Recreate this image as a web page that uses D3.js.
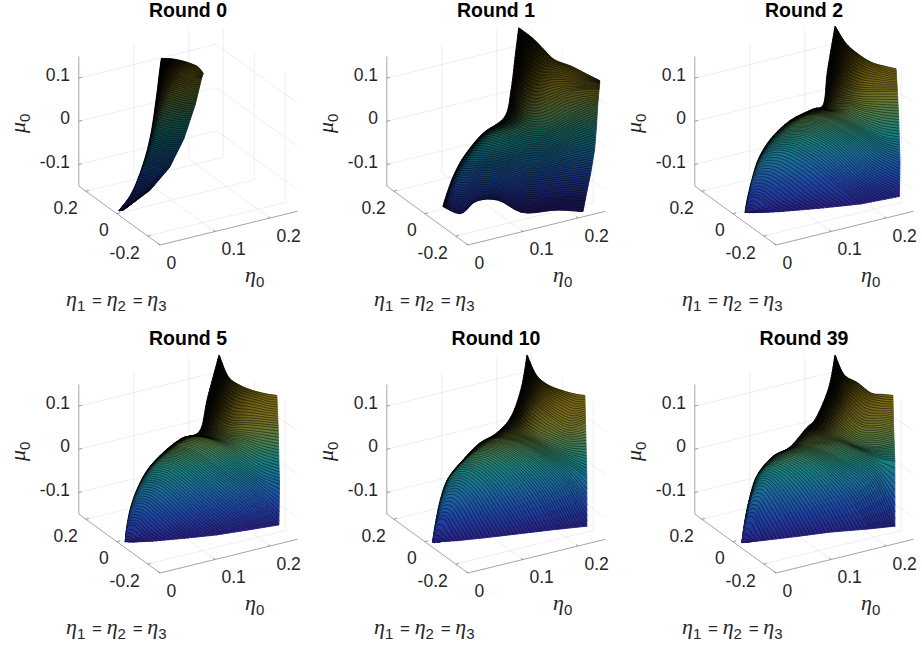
<!DOCTYPE html>
<html>
<head>
<meta charset="utf-8">
<script src="https://cdn.jsdelivr.net/npm/d3@7"></script>
<style>
body { margin: 0; background: #fff; }
text { font-family: "Liberation Sans", Arial, sans-serif; fill: #262626; }
.greek { font-family: "Liberation Serif", serif; font-style: italic; }
</style>
</head>
<body>
<div id="chart"></div>
<script>
// axes
var eta0Lim = [0, 0.25];
var etaYLim = [-0.279, 0.245];
var muLim = [-0.15, 0.15];
var eta0Ticks = [0, 0.1, 0.2];
var etaYTicks = [-0.2, 0, 0.2];
var muTicks = [-0.1, 0, 0.1];
var roundNames = ["Round 0", "Round 1", "Round 2", "Round 5", "Round 10", "Round 39"];

// surfaces: each row is one mesh line at a few points
var round0Eta = [
  [.004, .005, .007, .009, .011, .013],
  [.027, .033, .041, .048, .055, .061],
  [.048, .058, .067, .077, .087, .096],
  [.062, .073, .085, .098, .110, .122],
  [.072, .087, .102, .118, .132, .143],
  [.078, .096, .115, .130, .142, .154],
  [.081, .102, .121, .136, .148, .157]];
var round0Mu = [
  [-.137, -.138, -.138, -.138, -.138, -.138],
  [-.104, -.106, -.108, -.109, -.108, -.107],
  [-.043, -.048, -.054, -.060, -.065, -.066],
  [.022, .015, .007, .000, -.005, -.008],
  [.104, .094, .083, .073, .066, .066],
  [.164, .152, .141, .130, .124, .121],
  [.191, .183, .172, .161, .150, .133]];

var round1Eta = [
  [.017, .045, .069, .103, .142, .193, .235],
  [.024, .046, .072, .108, .144, .196, .240],
  [.035, .056, .082, .113, .149, .201, .247],
  [.051, .072, .097, .129, .165, .212, .253],
  [.079, .097, .123, .154, .186, .222, .256],
  [.113, .134, .154, .180, .206, .232, .258],
  [.123, .139, .160, .183, .206, .232, .260],
  [.130, .147, .167, .188, .212, .235, .261],
  [.135, .157, .175, .191, .217, .240, .261]];
var round1Mu = [
  [-.117, -.138, -.113, -.116, -.151, -.153, -.163],
  [-.085, -.100, -.084, -.094, -.118, -.122, -.125],
  [-.044, -.051, -.044, -.056, -.077, -.077, -.076],
  [-.004, -.007, -.015, -.027, -.040, -.032, -.023],
  [.042, .035, .016, .000, -.001, .017, .031],
  [.075, .057, .042, .038, .054, .069, .081],
  [.135, .110, .095, .103, .115, .119, .115],
  [.219, .186, .164, .161, .153, .142, .130],
  [.278, .250, .220, .195, .176, .155, .136]];

var round2Eta = [
  [.008, .010, .012, .015, .018, .021],
  [.011, .020, .030, .040, .051, .061],
  [.019, .030, .048, .072, .097, .123],
  [.030, .051, .077, .113, .154, .188],
  [.050, .074, .108, .149, .196, .248],
  [.079, .105, .139, .180, .217, .249],
  [.113, .134, .160, .191, .222, .248],
  [.130, .144, .170, .196, .222, .247],
  [.136, .154, .175, .196, .222, .245],
  [.148, .165, .186, .206, .227, .243]];
var round2Mu = [
  [-.130, -.130, -.130, -.131, -.131, -.132],
  [-.102, -.096, -.101, -.115, -.128, -.136],
  [-.053, -.044, -.050, -.077, -.111, -.138],
  [-.005, .007, .000, -.037, -.093, -.138],
  [.038, .046, .038, -.003, -.076, -.130],
  [.073, .076, .060, .019, -.025, -.053],
  [.093, .084, .068, .041, .013, .001],
  [.102, .094, .090, .075, .063, .055],
  [.176, .146, .128, .121, .117, .114],
  [.280, .237, .207, .186, .174, .166]];

var round5Eta = [
  [.002, .003, .005, .008, .011, .015],
  [.004, .010, .019, .027, .036, .045],
  [.010, .021, .035, .053, .074, .095],
  [.021, .035, .056, .082, .113, .144],
  [.038, .056, .082, .118, .160, .196],
  [.064, .084, .113, .154, .201, .241],
  [.090, .113, .144, .180, .212, .242],
  [.118, .139, .160, .186, .214, .241],
  [.130, .144, .165, .186, .214, .240],
  [.148, .162, .180, .201, .222, .238]];
var round5Mu = [
  [-.132, -.132, -.132, -.133, -.133, -.134],
  [-.101, -.095, -.099, -.113, -.126, -.137],
  [-.056, -.046, -.052, -.078, -.112, -.138],
  [-.011, .000, -.009, -.044, -.094, -.138],
  [.032, .045, .034, -.014, -.078, -.134],
  [.069, .076, .060, .011, -.050, -.130],
  [.094, .095, .071, .027, -.013, -.036],
  [.107, .091, .080, .068, .045, .029],
  [.181, .136, .114, .111, .103, .095],
  [.278, .226, .203, .187, .176, .170]];

var round10Eta = [
  [.001, .002, .004, .007, .009, .012],
  [.005, .012, .021, .027, .034, .039],
  [.013, .025, .040, .056, .072, .087],
  [.025, .040, .061, .087, .113, .139],
  [.048, .069, .097, .131, .165, .193],
  [.074, .097, .129, .165, .206, .241],
  [.100, .118, .149, .186, .217, .241],
  [.123, .139, .160, .186, .214, .240],
  [.139, .152, .167, .186, .214, .239],
  [.148, .162, .180, .201, .222, .238]];
var round10Mu = [
  [-.133, -.133, -.134, -.133, -.134, -.133],
  [-.094, -.081, -.085, -.101, -.121, -.135],
  [-.037, -.020, -.023, -.051, -.096, -.135],
  [.011, .028, .023, -.013, -.071, -.134],
  [.050, .066, .054, .011, -.056, -.133],
  [.085, .089, .073, .033, -.031, -.133],
  [.104, .098, .078, .041, .010, -.021],
  [.139, .114, .092, .072, .053, .045],
  [.203, .174, .152, .126, .099, .107],
  [.278, .230, .204, .188, .176, .170]];

var round39Eta = [
  [.003, .004, .006, .009, .011, .014],
  [.007, .013, .021, .027, .034, .039],
  [.015, .025, .038, .053, .072, .087],
  [.027, .043, .061, .087, .116, .139],
  [.051, .072, .097, .131, .170, .201],
  [.077, .097, .123, .160, .206, .241],
  [.103, .123, .154, .186, .214, .241],
  [.118, .139, .162, .186, .214, .240],
  [.138, .152, .167, .188, .214, .239],
  [.148, .162, .183, .204, .222, .238]];
var round39Mu = [
  [-.134, -.134, -.134, -.134, -.134, -.134],
  [-.090, -.076, -.077, -.097, -.120, -.134],
  [-.033, -.010, -.010, -.039, -.088, -.133],
  [.019, .036, .029, -.006, -.068, -.131],
  [.058, .062, .054, .015, -.053, -.133],
  [.075, .078, .066, .034, -.016, -.133],
  [.115, .089, .073, .049, .029, .018],
  [.136, .110, .087, .065, .056, .060],
  [.203, .166, .137, .107, .099, .103],
  [.278, .230, .208, .181, .175, .170]];

// fine mesh lines between two read rows
var round0Steps = [14, 14, 16, 16, 14, 10];
var round1Steps = [9, 9, 9, 9, 9, 9, 9, 8];
var round2Steps = [5, 8, 9, 11, 12, 9, 8, 9, 14];
var round5Steps = [5, 8, 9, 11, 12, 9, 9, 9, 14];
var round10Steps = [5, 8, 9, 11, 12, 9, 9, 9, 14];
var round39Steps = [5, 8, 9, 11, 12, 9, 9, 9, 14];

// the third coordinate: where the sheet lies along the eta_1 axis
var sheetEta = [0, 0.25];
var round0Sheet = [0, 0];
var slantSheet = [-0.046, -0.196];

var surfaces = [
  { eta: round0Eta, mu: round0Mu, steps: round0Steps, sheet: round0Sheet, gloom: 0.5 },
  { eta: round1Eta, mu: round1Mu, steps: round1Steps, sheet: slantSheet, gloom: 0.35 },
  { eta: round2Eta, mu: round2Mu, steps: round2Steps, sheet: slantSheet, gloom: 0.08 },
  { eta: round5Eta, mu: round5Mu, steps: round5Steps, sheet: slantSheet, gloom: 0.08 },
  { eta: round10Eta, mu: round10Mu, steps: round10Steps, sheet: slantSheet, gloom: 0.08 },
  { eta: round39Eta, mu: round39Mu, steps: round39Steps, sheet: slantSheet, gloom: 0.08 }
];

var svgWidth = 922;
var svgHeight = 653;
var panelDx = 308;
var panelDy = 328;
var muShift = -0.007;

var svg = d3.select("#chart").append("svg")
  .attr("width", svgWidth)
  .attr("height", svgHeight)
  .style("display", "block");

// box projection, all in pixels away from the front floor corner
var cornerX = 160, cornerY = 245;
var eta0X = d3.scaleLinear().domain(eta0Lim).range([0, 137.5]);
var eta0Y = d3.scaleLinear().domain(eta0Lim).range([0, -33.75]);
var etaYX = d3.scaleLinear().domain(etaYLim).range([0, -81.2]);
var etaYY = d3.scaleLinear().domain(etaYLim).range([0, -58.9]);
var muY = d3.scaleLinear().domain(muLim).range([0, -129.6]);

function project(e, y, m) {
  return [cornerX + eta0X(e) + etaYX(y), cornerY + eta0Y(e) + etaYY(y) + muY(m)];
}

var muColor = d3.scaleLinear()
  .domain([-0.14, -0.08, -0.03, 0.02, 0.06, 0.10, 0.14, 0.18])
  .range(["#2c2088", "#2148b0", "#1c70aa", "#1b8c8c", "#4a8c60", "#7a8432", "#907c20", "#8c7a14"])
  .clamp(true);

// Catmull-Rom through read values, t from 0 to 1
function spline(v, t) {
  var n = v.length - 1;
  var s = t * n;
  var i = Math.min(Math.floor(s), n - 1);
  var f = s - i;
  var p0 = v[Math.max(i - 1, 0)], p1 = v[i], p2 = v[i + 1], p3 = v[Math.min(i + 2, n)];
  return 0.5 * (2 * p1 + (p2 - p0) * f + (2 * p0 - 5 * p1 + 4 * p2 - p3) * f * f + (3 * p1 - p0 - 3 * p2 + p3) * f * f * f);
}

// across the rows: straight towards the row ends so the outer corners stay sharp
function acrossRows(v, t, u) {
  var n = v.length - 1;
  var s = t * n;
  var i = Math.min(Math.floor(s), n - 1);
  var straight = v[i] + (v[i + 1] - v[i]) * (s - i);
  var w = Math.max(0, Math.min(1, (u - 0.6) / 0.3));
  w = w * w * (3 - 2 * w);
  return spline(v, t) * (1 - w) + straight * w;
}

var lineGen = d3.line();
var colsFine = 26;

function drawGrid(g) {
  var lines = [];
  muTicks.forEach(function (m) {
    lines.push([[eta0Lim[0], etaYLim[1], m], [eta0Lim[1], etaYLim[1], m]]);
    lines.push([[eta0Lim[1], etaYLim[1], m], [eta0Lim[1], etaYLim[0], m]]);
  });
  eta0Ticks.slice(1).forEach(function (e) {
    lines.push([[e, etaYLim[1], muLim[0]], [e, etaYLim[1], muLim[1]]]);
    lines.push([[e, etaYLim[0], muLim[0]], [e, etaYLim[1], muLim[0]]]);
  });
  etaYTicks.forEach(function (y) {
    lines.push([[eta0Lim[1], y, muLim[0]], [eta0Lim[1], y, muLim[1]]]);
    lines.push([[eta0Lim[0], y, muLim[0]], [eta0Lim[1], y, muLim[0]]]);
  });
  g.selectAll("path.grid").data(lines).enter().append("path")
    .attr("class", "grid")
    .attr("d", function (d) { return lineGen(d.map(function (p) { return project(p[0], p[1], p[2]); })); })
    .attr("fill", "none")
    .attr("stroke", "#262626")
    .attr("stroke-opacity", 0.13)
    .attr("stroke-width", 0.6);
}

function drawAxes(g) {
  var axisLines = [
    [[eta0Lim[0], etaYLim[0], muLim[0]], [eta0Lim[1], etaYLim[0], muLim[0]]],
    [[eta0Lim[0], etaYLim[0], muLim[0]], [eta0Lim[0], etaYLim[1], muLim[0]]],
    [[eta0Lim[0], etaYLim[1], muLim[0]], [eta0Lim[0], etaYLim[1], muLim[1]]]
  ];
  var tickSize = 0.006;
  eta0Ticks.forEach(function (e) {
    axisLines.push([[e, etaYLim[0], muLim[0]], [e, etaYLim[0] + tickSize * 2, muLim[0]]]);
  });
  etaYTicks.forEach(function (y) {
    axisLines.push([[eta0Lim[0], y, muLim[0]], [eta0Lim[0] + tickSize, y, muLim[0]]]);
  });
  muTicks.forEach(function (m) {
    axisLines.push([[eta0Lim[0], etaYLim[1], m], [eta0Lim[0] + tickSize, etaYLim[1], m]]);
  });
  g.selectAll("path.axis").data(axisLines).enter().append("path")
    .attr("class", "axis")
    .attr("d", function (d) { return lineGen(d.map(function (p) { return project(p[0], p[1], p[2]); })); })
    .attr("fill", "none")
    .attr("stroke", "#262626")
    .attr("stroke-opacity", 0.6)
    .attr("stroke-width", 0.7);

  g.selectAll("text.mu").data(muTicks).enter().append("text")
    .attr("class", "mu")
    .attr("x", 70)
    .attr("y", function (d) { return project(eta0Lim[0], etaYLim[1], d)[1] - 3; })
    .attr("dy", "0.35em")
    .attr("text-anchor", "end")
    .attr("font-size", 17.5)
    .text(String);

  g.selectAll("text.etay").data(etaYTicks).enter().append("text")
    .attr("class", "etay")
    .attr("x", function (d) { return project(eta0Lim[0], d, muLim[0])[0] - 8; })
    .attr("y", function (d) { return project(eta0Lim[0], d, muLim[0])[1] + 16.5; })
    .attr("dy", "0.35em")
    .attr("text-anchor", "end")
    .attr("font-size", 17.5)
    .text(String);

  g.selectAll("text.eta").data(eta0Ticks).enter().append("text")
    .attr("class", "eta")
    .attr("x", function (d) { return project(d, etaYLim[0], muLim[0])[0] + 6.5; })
    .attr("y", function (d) { return project(d, etaYLim[0], muLim[0])[1] + 17.5; })
    .attr("dy", "0.35em")
    .attr("text-anchor", "start")
    .attr("font-size", 17.5)
    .text(String);
}

function addSymbol(t, symbol, sub) {
  t.append("tspan").attr("class", "greek").attr("font-size", 22).text(symbol);
  t.append("tspan").attr("font-size", 15).attr("dy", 5).text(sub);
}

function drawLabels(g, name) {
  g.append("text")
    .attr("x", 188).attr("y", 16.5)
    .attr("text-anchor", "middle")
    .attr("font-size", 19.5)
    .attr("font-weight", "bold")
    .style("fill", "#000")
    .text(name);

  var ml = g.append("text").attr("transform", "translate(25,133) rotate(-90)");
  addSymbol(ml, "\u03bc", "0");

  var el = g.append("text").attr("x", 245).attr("y", 282);
  addSymbol(el, "\u03b7", "0");

  var note = g.append("text").attr("x", 66).attr("y", 306);
  addSymbol(note, "\u03b7", "1");
  note.append("tspan").attr("font-size", 17).attr("dy", -5).attr("dx", 2).text("\u00a0=\u00a0");
  addSymbol(note, "\u03b7", "2");
  note.append("tspan").attr("font-size", 17).attr("dy", -5).attr("dx", 2).text("\u00a0=\u00a0");
  addSymbol(note, "\u03b7", "3");
}

function drawSurface(g, s) {
  var sheetY = d3.scaleLinear().domain(sheetEta).range(s.sheet);
  var nRows = s.eta.length - 1;

  // fine rows, v runs over the read rows
  var vs = [];
  s.steps.forEach(function (n, i) {
    d3.range(n).forEach(function (j) { vs.push((i + j / n) / nRows); });
  });
  vs.push(1);

  var grid = vs.map(function (v) {
    return d3.range(colsFine + 1).map(function (c) {
      var u = c / colsFine;
      var e = acrossRows(s.eta.map(function (r) { return spline(r, u); }), v, u);
      var m = acrossRows(s.mu.map(function (r) { return spline(r, u); }), v, u);
      return { u: u, v: v, m: m, p: project(e, sheetY(e), m + muShift) };
    });
  });

  var cells = [];
  d3.range(vs.length - 1).forEach(function (i) {
    d3.range(colsFine).forEach(function (c) {
      var a = grid[i][c], b = grid[i][c + 1], k = grid[i + 1][c + 1], l = grid[i + 1][c];
      var u = (a.u + b.u) / 2, v = (a.v + l.v) / 2;
      // mesh columns crowd near the start of a row, more so towards the top
      var band = 0.05 + 0.5 * v * v * v;
      var crowd = Math.exp(-(u / band) * (u / band));
      var dark = 1 - (1 - crowd) * (1 - s.gloom);
      var col = d3.interpolateRgb(muColor((a.m + k.m) / 2), "#000")(dark);
      cells.push({ d: lineGen([a.p, b.p, k.p, l.p]) + "Z", col: col });
    });
  });

  // a wide stroke on each cell hides the antialiased seams between cells
  g.selectAll("path.cell").data(cells).enter().append("path")
    .attr("class", "cell")
    .attr("d", function (d) { return d.d; })
    .attr("fill", function (d) { return d.col; })
    .attr("stroke", function (d) { return d.col; })
    .attr("stroke-linejoin", "round")
    .attr("stroke-width", 0.9);

  g.selectAll("path.mesh").data(grid).enter().append("path")
    .attr("class", "mesh")
    .attr("d", function (row) { return lineGen(row.map(function (q) { return q.p; })); })
    .attr("fill", "none")
    .attr("stroke", "#000")
    .attr("stroke-linejoin", "round")
    .attr("stroke-opacity", 0.85)
    .attr("stroke-width", 0.58);
}

roundNames.forEach(function (name, i) {
  var g = svg.append("g")
    .attr("transform", "translate(" + (i % 3) * panelDx + "," + Math.floor(i / 3) * panelDy + ")");
  drawGrid(g);
  drawAxes(g);
  drawSurface(g, surfaces[i]);
  drawLabels(g, name);
});
</script>
</body>
</html>
